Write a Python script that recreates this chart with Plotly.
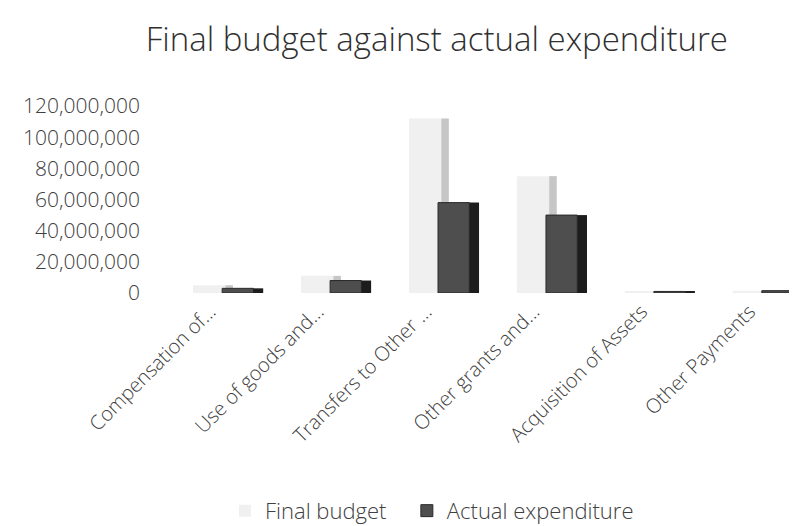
import plotly.graph_objects as go

categories = ["Compensation of...", "Use of goods and...", "Transfers to Other ...",
              "Other grants and...", "Acquisition of Assets", "Other Payments"]
final_budget = [5_000_000, 11_000_000, 112_000_000, 75_000_000, 1_000_000, 1_500_000]
actual_expenditure = [3_000_000, 8_000_000, 58_000_000, 50_000_000, 1_000_000, 1_500_000]
y_ticks = [0, 20_000_000, 40_000_000, 60_000_000, 80_000_000, 100_000_000, 120_000_000]

FONT = "Open Sans"
TXT = "#404040"

fig = go.Figure()
# Final budget: pale front face + light grey side face
fig.add_trace(go.Bar(
    name="Final budget", x=categories, y=final_budget,
    marker=dict(color="#f0f0f0", line=dict(width=0)),
    offset=-0.23, width=0.30, legendgroup="fb", legend="legend",
))
fig.add_trace(go.Bar(
    name="Final budget", x=categories, y=final_budget, showlegend=False,
    marker=dict(color="#c6c6c6", line=dict(width=0)),
    offset=0.07, width=0.07, legendgroup="fb", legend="legend",
))
# Actual expenditure: dark front face + near-black side face
fig.add_trace(go.Bar(
    name="Actual expenditure", x=categories, y=actual_expenditure,
    marker=dict(color="#4e4e4e", line=dict(color="#2a2a2a", width=1)),
    offset=0.04, width=0.29, legendgroup="ae", legend="legend2",
))
fig.add_trace(go.Bar(
    name="Actual expenditure", x=categories, y=actual_expenditure, showlegend=False,
    marker=dict(color="#1c1c1c", line=dict(width=0)),
    offset=0.33, width=0.09, legendgroup="ae", legend="legend2",
))

legend_common = dict(orientation="h", xanchor="left", y=-1.165, yanchor="middle",
                     font=dict(size=22, color=TXT, weight=300), itemwidth=30,
                     bgcolor="rgba(0,0,0,0)")

fig.update_layout(
    width=797, height=526,
    barmode="overlay",
    paper_bgcolor="white", plot_bgcolor="white",
    margin=dict(l=171, r=0, t=98, b=241),
    font=dict(family=FONT, color=TXT),
    title=dict(text="Final budget against actual expenditure",
               x=0.538, xanchor="center", y=0.94, yanchor="middle",
               font=dict(family=FONT, size=33, color="#303030", weight=300)),
    xaxis=dict(range=[-0.36, 5.44], tickangle=-45, showgrid=False, showline=False,
               zeroline=False, ticks="", tickfont=dict(size=20, color=TXT, weight=300),
               ticklabelstandoff=2, ticklabelshift=-8),
    yaxis=dict(range=[0, 120_000_000], tickvals=y_ticks, tickformat=",",
               showgrid=False, showline=False, zeroline=False, ticks="",
               tickfont=dict(size=21, color=TXT, weight=300), ticklabelstandoff=38),
    legend=dict(x=0.0735, **legend_common),
    legend2=dict(x=0.364, **legend_common),
    showlegend=True,
)

fig.write_html("out.html")
